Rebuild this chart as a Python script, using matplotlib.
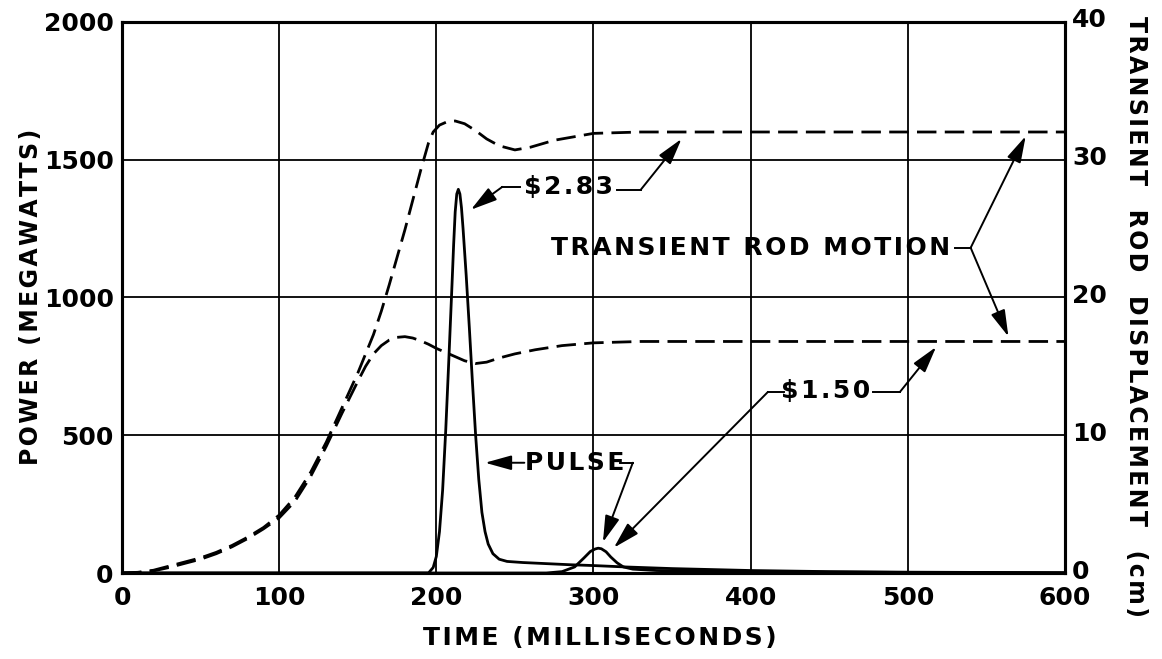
import matplotlib
matplotlib.use("Agg")
import matplotlib.pyplot as plt
import matplotlib.transforms as mtransforms
import numpy as np

# rod motion (cm), $2.83 and $1.50 transients
rod_t_283 = [0, 10, 20, 30, 40, 50, 60, 70, 80, 90, 100, 110, 120, 130, 140, 150,
             155, 160, 165, 170, 180, 190, 195, 198, 202, 207, 212, 218, 225, 232,
             240, 250, 260, 275, 300, 330, 600]
rod_cm_283 = [0, 0.05, 0.2, 0.5, 0.8, 1.1, 1.5, 2.0, 2.6, 3.3, 4.2, 5.5, 7.3, 9.5, 12.0, 14.5,
              15.9, 17.3, 19.0, 20.9, 24.9, 29.2, 31.2, 32.0, 32.5, 32.75, 32.8, 32.6, 32.1, 31.5,
              31.0, 30.7, 30.9, 31.4, 31.9, 32.0, 32.0]

rod_t_150 = [0, 10, 20, 30, 40, 50, 60, 70, 80, 90, 100, 110, 120, 130, 140, 150,
             155, 160, 165, 170, 175, 180, 185, 190, 195, 200, 210, 218, 225, 232,
             240, 250, 263, 280, 300, 330, 600]
rod_cm_150 = [0, 0.03, 0.15, 0.4, 0.7, 1.0, 1.4, 1.9, 2.5, 3.2, 4.0, 5.2, 7.0, 9.2, 11.6, 13.9,
              15.0, 15.9, 16.5, 16.9, 17.1, 17.15, 17.05, 16.85, 16.6, 16.3, 15.8, 15.4, 15.2, 15.3,
              15.6, 15.9, 16.2, 16.5, 16.7, 16.8, 16.8]

# power pulses (MW)
pulse_t_283 = [0, 195, 198, 200, 202, 204, 206, 208, 210, 211, 212, 213, 214, 215, 216, 217,
               219, 221, 223, 225, 227, 229, 231, 233, 236, 240, 245, 255, 270, 285, 300,
               320, 350, 400, 450, 500, 550, 600]
pulse_mw_283 = [0, 0, 20, 60, 150, 300, 520, 780, 1050, 1190, 1310, 1375, 1392, 1375, 1325, 1250,
                1080, 890, 690, 500, 340, 220, 150, 105, 70, 50, 42, 38, 34, 30, 27,
                22, 16, 9, 5, 3, 2, 1]

pulse_t_150 = [0, 270, 280, 288, 294, 298, 301, 303, 305, 308, 311, 315, 319, 325, 340, 370,
               420, 500, 600]
pulse_mw_150 = [0, 0, 5, 22, 55, 78, 87, 90, 88, 77, 58, 37, 22, 14, 9, 6,
                4, 2, 1]

x_ticks = [0, 100, 200, 300, 400, 500, 600]
p_ticks = [0, 500, 1000, 1500, 2000]
d_ticks = [0, 10, 20, 30, 40]


def spaced(s, sep="\u200a"):
    return sep.join(list(s))


plt.rcParams['font.family'] = ['DejaVu Sans']
plt.rcParams['font.weight'] = 'bold'
plt.rcParams['axes.labelweight'] = 'bold'
plt.rcParams['text.color'] = 'black'

fig = plt.figure(figsize=(11.62, 6.59), dpi=100)
ax = fig.add_axes([0.105, 0.1305, 0.8115, 0.8365])
ax2 = ax.twinx()

ax.set_xlim(0, 600)
ax.set_ylim(0, 2000)
ax2.set_ylim(0, 40)

ax.set_xticks(x_ticks)
ax.set_yticks(p_ticks)
ax2.set_yticks(d_ticks)
ax.grid(True, color='black', linewidth=1.3)
ax.tick_params(length=0, labelsize=18, pad=6)
ax.tick_params(axis='x', pad=9)
ax2.tick_params(length=0, labelsize=18, pad=5)
for a in (ax, ax2):
    for sp in a.spines.values():
        sp.set_linewidth(2.2)

# right tick labels sit slightly higher in the original
up = mtransforms.ScaledTranslation(0, 4 / 100, fig.dpi_scale_trans)
for lab in ax2.get_yticklabels():
    lab.set_transform(lab.get_transform() + up)

ax.set_xlabel(spaced("TIME (MILLISECONDS)"), fontsize=18)
ax.xaxis.set_label_coords(0.507, -0.097)
ax.set_ylabel(spaced("POWER (MEGAWATTS)"), fontsize=17)
ax.yaxis.set_label_coords(-0.084, 0.5)
ax2.set_ylabel(spaced("TRANSIENT  ROD  DISPLACEMENT  (cm)"), fontsize=17, rotation=-90)
ax2.yaxis.set_label_coords(1.088, 0.465)

# curves
ax.plot(pulse_t_283, pulse_mw_283, color='black', lw=2.0, solid_joinstyle='round')
ax.plot(pulse_t_150, pulse_mw_150, color='black', lw=2.0, solid_joinstyle='round')
ax2.plot(rod_t_283, rod_cm_283, color='black', lw=2.0, dashes=(7, 3))
ax2.plot(rod_t_150, rod_cm_150, color='black', lw=2.0, dashes=(7, 3))

arrow = dict(arrowstyle='-|>,head_length=0.9,head_width=0.25', color='black',
             lw=1.4, mutation_scale=18, shrinkA=0, shrinkB=0)
lkw = dict(color='black', lw=1.4)
tkw = dict(fontsize=18, ha='center', va='center')

# $2.83 label
ax.text(284, 1401, spaced("$2.83"), **tkw)
ax.plot([253, 242], [1401, 1401], **lkw)
ax.annotate('', xy=(222, 1318), xytext=(242, 1401), arrowprops=arrow)
ax.plot([315, 330], [1390, 1390], **lkw)
ax.annotate('', xy=(356, 1575), xytext=(330, 1390), arrowprops=arrow)

# transient rod motion label
ax.text(400, 1180, spaced("TRANSIENT ROD MOTION"), **tkw)
ax.plot([530, 540], [1180, 1180], **lkw)
ax.annotate('', xy=(575, 1585), xytext=(540, 1180), arrowprops=arrow)
ax.annotate('', xy=(564, 858), xytext=(540, 1180), arrowprops=arrow)

# $1.50 label
ax.text(448, 660, spaced("$1.50"), **tkw)
ax.plot([421, 411], [657, 657], **lkw)
ax.annotate('', xy=(313, 92), xytext=(411, 657), arrowprops=arrow)
ax.plot([478, 495], [657, 657], **lkw)
ax.annotate('', xy=(518, 820), xytext=(495, 657), arrowprops=arrow)

# pulse label
ax.text(288, 400, spaced("PULSE"), **tkw)
ax.annotate('', xy=(231, 400), xytext=(256, 400), arrowprops=arrow)
ax.plot([317, 325], [400, 400], **lkw)
ax.annotate('', xy=(306, 112), xytext=(325, 400), arrowprops=arrow)

fig.savefig("out.png", dpi=100)
